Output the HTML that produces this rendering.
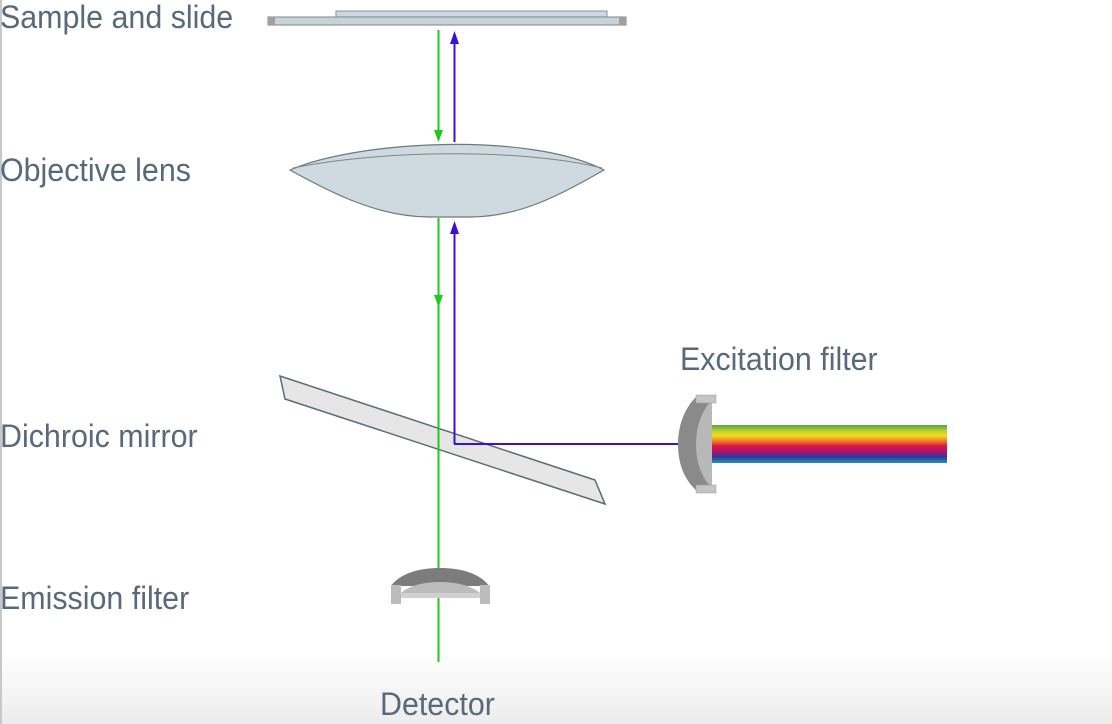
<!DOCTYPE html>
<html><head><style>
html,body{margin:0;padding:0;}
body{width:1112px;height:724px;position:relative;overflow:hidden;background:#fff;}
.bg{position:absolute;left:0;top:0;width:1112px;height:724px;background:linear-gradient(to bottom,#fff 0,#fff 655px,#ececec 724px);}
.edge{position:absolute;left:0;top:0;width:2px;height:724px;background:#c8c8c8;}
.l{position:absolute;font-family:"Liberation Sans Narrow","Liberation Sans",sans-serif;font-size:32px;color:#58697a;white-space:nowrap;line-height:1;transform:scaleX(0.95);transform-origin:left center;}
svg{position:absolute;left:0;top:0;}
</style></head><body>
<div class="bg"></div><div class="edge"></div>
<svg width="1112" height="724" viewBox="0 0 1112 724">
<defs>
<linearGradient id="rb" x1="0" y1="0" x2="0" y2="1">
<stop offset="0" stop-color="#4aa84a"/><stop offset="0.15" stop-color="#b8d030"/>
<stop offset="0.28" stop-color="#f0e020"/><stop offset="0.42" stop-color="#f08020"/>
<stop offset="0.55" stop-color="#d81840"/><stop offset="0.7" stop-color="#b01070"/>
<stop offset="0.84" stop-color="#303890"/><stop offset="1" stop-color="#2090d0"/>
</linearGradient>
</defs>
<rect x="336" y="11" width="271" height="6" fill="#cfd8de" stroke="#8a9299" stroke-width="1"/>
<rect x="268" y="17" width="358" height="8" fill="#c8d2d9" stroke="#7d868d" stroke-width="1"/>
<rect x="268" y="17" width="7" height="8" fill="#a0a0a0"/>
<rect x="619" y="17" width="7" height="8" fill="#a0a0a0"/>
<path d="M290,170 C360,140 530,132 604,170 C560,195 520,217 470,217 L430,217 C380,217 335,195 290,170 Z" fill="#cfd9e0" stroke="#6f777d" stroke-width="1.2"/>
<path d="M293,168 C380,150 520,148 602,168" fill="none" stroke="#7d858b" stroke-width="1"/>
<polygon points="280,376 595,480 605,504 285,399" fill="#e6e6e6" stroke="#5f6a72" stroke-width="1.5"/>
<line x1="438.5" y1="30" x2="438.5" y2="140" stroke="#1ec81e" stroke-width="2"/>
<polygon points="434,130 443,130 438.5,142" fill="#1ec81e"/>
<line x1="438.5" y1="218" x2="438.5" y2="662" stroke="#1ec81e" stroke-width="2"/>
<polygon points="434,295 443,295 438.5,307" fill="#1ec81e"/>
<line x1="454.5" y1="40" x2="454.5" y2="142" stroke="#3a10d8" stroke-width="2"/>
<polygon points="450,44 459,44 454.5,31" fill="#3a10d8"/>
<line x1="454.5" y1="232" x2="454.5" y2="444" stroke="#3a10d8" stroke-width="2"/>
<polygon points="450,234 459,234 454.5,221" fill="#3a10d8"/>
<line x1="454" y1="444" x2="681" y2="444" stroke="#3a10d8" stroke-width="2"/>
<rect x="711" y="425" width="236" height="38" fill="url(#rb)"/>
<path d="M697,396 C682,410 678,430 678,444 C678,460 682,478 697,491 L712,491 L712,396 Z" fill="#8a8a8a"/>
<path d="M712,400 C700,412 696,430 696,444 C696,460 700,476 712,488 Z" fill="#b8b8b8"/>
<rect x="696" y="395" width="20" height="8" fill="#c4c4c4" stroke="#999" stroke-width="0.5"/>
<rect x="696" y="485" width="20" height="8" fill="#c4c4c4" stroke="#999" stroke-width="0.5"/>
<path d="M391,586 C400,573 420,568 440,568 C460,568 480,573 489,586 Z" fill="#7c7c7c"/>
<path d="M401,593 C410,585 425,582 440,582 C455,582 470,585 480,593 Z" fill="#bcbcbc"/>
<rect x="391" y="585" width="10" height="19" fill="#bcbcbc"/>
<rect x="480" y="585" width="10" height="19" fill="#bcbcbc"/>
<rect x="401" y="593" width="79" height="5" fill="#d0d0d0"/>
</svg>
<div class="l" style="left:0px;top:1px;">Sample and slide</div>
<div class="l" style="left:0px;top:154px;">Objective lens</div>
<div class="l" style="left:0px;top:420px;">Dichroic mirror</div>
<div class="l" style="left:0px;top:582px;">Emission filter</div>
<div class="l" style="left:680px;top:343px;">Excitation filter</div>
<div class="l" style="left:380px;top:688px;">Detector</div>
</body></html>
